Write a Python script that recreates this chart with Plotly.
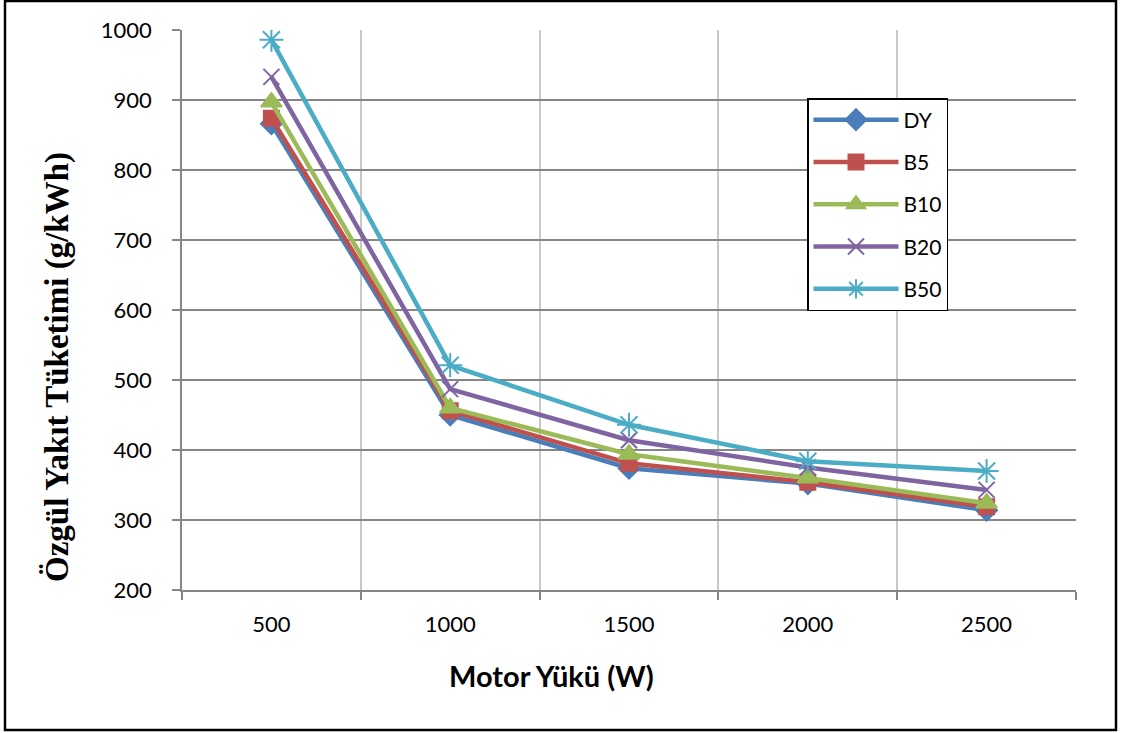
import plotly.graph_objects as go

loads = ["500", "1000", "1500", "2000", "2500"]
dy = [866, 450, 374, 352, 314]
b5 = [874, 456, 381, 354, 319]
b10 = [897, 460, 394, 360, 324]
b20 = [933, 487, 414, 375, 343]
b50 = [986, 521, 436, 384, 370]

series = [
    ("DY", dy, "#4A7EBB", "diamond", 16),
    ("B5", b5, "#C0504D", "square", 15),
    ("B10", b10, "#9BBB59", "triangle-up", 18),
    ("B20", b20, "#8064A2", "x-thin-open", 16),
    ("B50", b50, "#4BACC6", "asterisk-open", 20),
]

fig = go.Figure()
for name, vals, col, sym, sz in series:
    fig.add_trace(go.Scatter(
        x=loads, y=vals, name=name, mode="lines+markers",
        legendgroup=name,
        line=dict(color=col, width=4.5),
        marker=dict(symbol=sym, size=sz, color=col,
                    line=dict(color=col, width=2)),
    ))

W, H = 1121, 733
L, R, T, B = 182, 45, 30, 143
pw, ph = W - L - R, H - T - B

def px(x):
    return (x - L) / pw

def py(y):
    return (H - B - y) / ph

fig.update_layout(
    width=W, height=H,
    margin=dict(l=L, r=R, t=T, b=B),
    paper_bgcolor="white", plot_bgcolor="white",
    font=dict(family="Lato, Open Sans, sans-serif", color="black", size=18),
    showlegend=True,
    legend=dict(
        x=px(807), y=py(98), xanchor="left", yanchor="top",
        bordercolor="black", borderwidth=1.5, bgcolor="white",
        font=dict(size=21, family="Lato, sans-serif"),
        traceorder="grouped", tracegroupgap=12,
        itemwidth=85, entrywidth=75, entrywidthmode="pixels",
    ),
    xaxis=dict(
        type="category", tickson="boundaries",
        showgrid=True, gridcolor="#C8C8C8", gridwidth=1.5,
        showline=True, linecolor="#868686", linewidth=1.5,
        ticks="outside", ticklen=8, tickcolor="#868686", tickwidth=1.5,
        tickfont=dict(size=22), ticklabelstandoff=14,
        range=[-0.5, 4.5], zeroline=False,
    ),
    yaxis=dict(
        range=[200, 1000], dtick=100,
        showgrid=True, gridcolor="#868686", gridwidth=1.5,
        showline=True, linecolor="#868686", linewidth=1.5,
        ticks="outside", ticklen=8, tickcolor="#868686", tickwidth=1.5,
        tickfont=dict(size=22), ticklabelstandoff=16,
        zeroline=False,
    ),
    annotations=[
        dict(text="<b>Motor Yükü (W)</b>", xref="paper", yref="paper",
             x=px(551), y=py(675), xanchor="center", yanchor="middle",
             showarrow=False, font=dict(size=29, family="Lato, sans-serif")),
        dict(text="<b>Özgül Yakıt Tüketimi (g/kWh)</b>", xref="paper", yref="paper",
             x=px(57), y=py(367), xanchor="center", yanchor="middle", textangle=-90,
             showarrow=False,
             font=dict(size=33, family="Liberation Serif, Times New Roman, serif")),
    ],
    shapes=[dict(type="rect", xref="paper", yref="paper",
                 x0=px(5), x1=px(1116), y0=py(730), y1=py(1),
                 line=dict(color="black", width=2.5), layer="below")],
)

fig.write_html("out.html")
